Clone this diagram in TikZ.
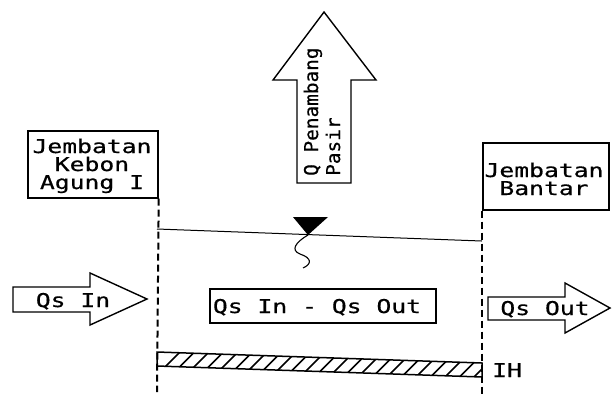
\documentclass[tikz,border=0pt]{standalone}
\usepackage{fontspec}
\newfontfamily\cadfont[FakeStretch=1.3,FakeBold=0.5]{DejaVu Sans Mono}
\newfontfamily\cadnarrow[FakeStretch=1.02,FakeBold=0.5]{DejaVu Sans Mono}
\usetikzlibrary{calc}
\begin{document}
\begin{tikzpicture}[x=1bp,y=-1bp,
  lbl/.style={font=\cadfont\fontsize{19bp}{19bp}\selectfont, inner sep=0pt, anchor=base},
  uplbl/.style={font=\cadnarrow\fontsize{19bp}{19bp}\selectfont, inner sep=0pt, rotate=90, anchor=base west},
  frame/.style={draw, line width=1.7bp, inner sep=0pt, anchor=north west},
  outline/.style={draw, line width=1.4bp, line join=miter, fill=white},
  section/.style={line width=2bp, dash pattern=on 7bp off 4bp},
  surface/.style={line width=1bp},
  hatchline/.style={line width=1.6bp}]
\useasboundingbox (0,0) rectangle (612,396);

% bridge boxes
\node[frame, minimum width=130bp, minimum height=67bp] (kebon) at (27,130) {};
\node[lbl] (kebon1) at (92,153) {Jembatan};
\node[lbl] (kebon2) at (92,171) {Kebon};
\node[lbl] (kebon3) at (92,189) {Agung I};

\node[frame, minimum width=126bp, minimum height=67bp] (bantar) at (482,142) {};
\node[lbl] (bantar1) at (544,177) {Jembatan};
\node[lbl] (bantar2) at (544,195) {Bantar};

% section lines below the bridges
\coordinate (kebonEnd) at (157,392);
\coordinate (bantarEnd) at (482,396);
\draw[section] (kebon.south east) -- (kebonEnd);
\draw[section] (bantar.south west) -- (bantarEnd);

% sand mining outflow arrow
\draw[outline] (297,183) -- (297,80) -- (273,80) -- (324,12) -- (376,80) -- (351,80) -- (351,183) -- cycle;
\node[uplbl] (mine1) at (318,176) {Q Penambang};
\node[uplbl] (mine2) at (340,176) {Pasir};

% water surface with level marker
\coordinate (ws1) at (157,229);
\coordinate (ws2) at (482,241);
\draw[surface] (ws1) -- (ws2);
\coordinate (tip) at (308,235);
\fill (293,217) -- (328,217) -- (tip) -- cycle;
\draw[line width=1.1bp] (tip) .. controls (296,242) and (290,250) .. (300,254)
  .. controls (312,258) and (312,264) .. (303,268);

% sediment balance
\node[draw, line width=1.7bp, minimum width=226bp, minimum height=34bp, inner sep=0pt] (balance) at (323,306) {};
\node[lbl] (balanceText) at (317,313) {Qs In - Qs Out};

% inflow and outflow arrows
\draw[outline] (13,287) -- (90,287) -- (90,273) -- (147,299) -- (90,325) -- (90,312) -- (13,312) -- cycle;
\node[lbl] (qsin) at (73,307) {Qs In};
\draw[outline] (488,297) -- (565,297) -- (565,283) -- (610,308) -- (565,333) -- (565,320) -- (488,320) -- cycle;
\node[lbl] (qsout) at (545,315) {Qs Out};

% hatched river bed
\coordinate (bedTL) at (157,352);
\coordinate (bedBL) at (157,366);
\coordinate (bedTR) at (482,363);
\coordinate (bedBR) at (482,377);
\begin{scope}
  \clip (bedTL) -- (bedTR) -- (bedBR) -- (bedBL) -- cycle;
  \foreach \i in {0,...,23} {
    \draw[hatchline] (150+\i*14.5,382) -- ++(34,-34);
  }
\end{scope}
\draw[line width=1.5bp] (bedTL) -- (bedTR) -- (bedBR) -- (bedBL) -- cycle;
\node[lbl, anchor=base west] (depth) at (492,377) {IH};
\end{tikzpicture}
\end{document}
